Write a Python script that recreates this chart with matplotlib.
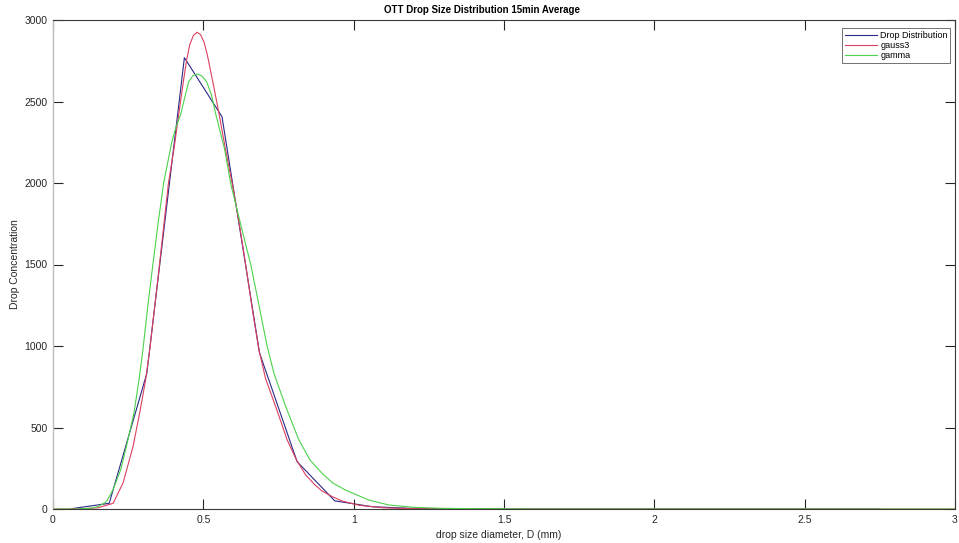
import numpy as np
import matplotlib
matplotlib.use('Agg')
import matplotlib.pyplot as plt

plt.rcParams['font.family'] = ['Liberation Sans', 'DejaVu Sans']

# measured drop distribution (Parsivel class centres)
drop_d = [0.062, 0.187, 0.312, 0.437, 0.562, 0.687, 0.812, 0.937, 1.062, 1.187,
          1.375, 1.625, 1.875, 2.125, 2.375, 2.75]
drop_n = [2, 35, 832, 2769, 2407, 957, 290, 50, 14, 4,
          1, 0, 0, 0, 0, 0]

# gauss3 fit
gauss_d = [0.0, 0.1, 0.15, 0.2, 0.233, 0.266, 0.288, 0.308, 0.323, 0.354,
           0.384, 0.404, 0.418, 0.435, 0.445, 0.455, 0.467, 0.479, 0.491, 0.503,
           0.514, 0.525, 0.538, 0.553, 0.573, 0.597, 0.62, 0.641, 0.665, 0.685,
           0.707, 0.746, 0.779, 0.81, 0.84, 0.87, 0.895, 0.93, 0.96, 1.02,
           1.1, 1.2, 1.4, 3.0]
gauss_n = [0, 1, 8, 35, 160, 382, 587, 791, 996, 1497,
           2000, 2230, 2420, 2640, 2760, 2850, 2905, 2925, 2910, 2860,
           2780, 2680, 2560, 2417, 2213, 1988, 1745, 1497, 1200, 975,
           800, 600, 423, 300, 210, 150, 110, 75, 50, 22,
           7, 2, 0, 0]

# gamma fit
gamma_d = [0.0, 0.08, 0.13, 0.15, 0.178, 0.2, 0.225, 0.244, 0.269, 0.286,
           0.299, 0.315, 0.332, 0.35, 0.368, 0.395, 0.41, 0.424, 0.451, 0.466,
           0.481, 0.496, 0.511, 0.527, 0.542, 0.570, 0.592, 0.625, 0.658, 0.685,
           0.712, 0.735, 0.774, 0.818, 0.855, 0.895, 0.93, 0.972, 1.05, 1.116,
           1.2, 1.3, 1.4, 1.6, 3.0]
gamma_n = [0, 0, 6, 15, 45, 120, 240, 382, 587, 791,
           975, 1240, 1497, 1760, 2000, 2250, 2350, 2417, 2621, 2660,
           2669, 2655, 2621, 2540, 2417, 2213, 1988, 1740, 1497, 1250,
           1000, 832, 628, 423, 300, 219, 160, 117, 55, 25,
           10, 4, 2, 0, 0]

xticks = [0, 0.5, 1, 1.5, 2, 2.5, 3]
xticklabels = ['0', '0.5', '1', '1.5', '2', '2.5', '3']
yticks = [0, 500, 1000, 1500, 2000, 2500, 3000]

fig = plt.figure(figsize=(9.59, 5.43), dpi=100)
ax = fig.add_axes([53 / 959, 34 / 543, 902 / 959, 489 / 543])

ax.plot(drop_d, drop_n, color='#2a2a88', lw=0.8, label='Drop Distribution')
ax.plot(gauss_d, gauss_n, color='#dc4060', lw=0.8, label='gauss3')
ax.plot(gamma_d, gamma_n, color='#4cd24c', lw=0.8, label='gamma')

ax.set_xlim(0, 3)
ax.set_ylim(0, 3000)
ax.set_xticks(xticks)
ax.set_xticklabels(xticklabels)
ax.set_yticks(yticks)
ax.tick_params(direction='in', length=7, width=0.8, colors='#262626',
               labelsize=7.5, top=True, right=True, pad=4)
for s in ['top', 'bottom', 'right']:
    ax.spines[s].set_color('#3a3a3a')
    ax.spines[s].set_linewidth(0.8)
ax.spines['left'].set_color('#bdbdbd')
ax.spines['left'].set_linewidth(1.0)

ax.set_title('OTT Drop Size Distribution 15min Average', fontsize=7,
             fontweight='bold', x=0.476, pad=5)
ax.set_xlabel('drop size diameter, D (mm)', fontsize=7.5, color='#262626')
ax.xaxis.set_label_coords(0.494, -0.042)
ax.set_ylabel('Drop Concentration', fontsize=7.5, color='#262626')
ax.yaxis.set_label_coords(-0.037, 0.5)

leg = ax.legend(loc='upper right', fontsize=6.5, frameon=True, fancybox=False,
                edgecolor='#333333', handlelength=3.5, borderpad=0.3,
                labelspacing=0.1, handletextpad=0.4,
                bbox_to_anchor=(1.0, 0.992))
leg.get_frame().set_linewidth(0.6)

fig.savefig('out.png', dpi=100)
